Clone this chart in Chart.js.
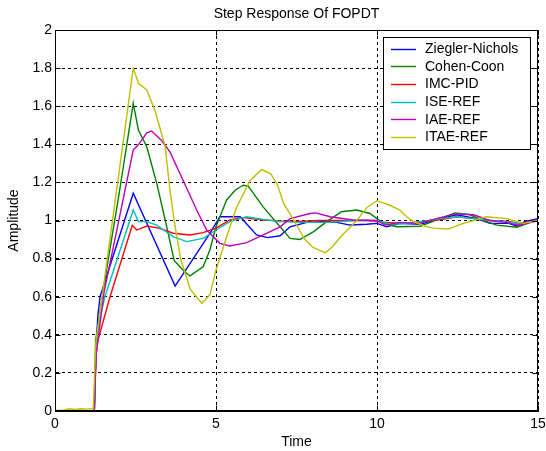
<!DOCTYPE html>
<html>
<head>
<meta charset="utf-8">
<title>Step Response Of FOPDT</title>
<script src="https://cdn.jsdelivr.net/npm/chart.js@4"></script>
<style>
  html, body { margin: 0; padding: 0; background: #fff; }
  #wrap { width: 546px; height: 451px; }
</style>
</head>
<body>
<div id="wrap"><canvas id="stepChart" width="546" height="451"></canvas></div>
<script>
// axis ticks
const timeTicks = [0, 5, 10, 15];
const ampTicks = [0, 0.2, 0.4, 0.6, 0.8, 1, 1.2, 1.4, 1.6, 1.8, 2];

// Ziegler-Nichols
const znTime = [0, 1.22, 1.27, 1.33, 1.40, 2.43, 3.73, 4.81, 5.12, 5.75, 6.26, 6.6, 6.99, 7.3, 8.02, 8.75, 9.16, 9.68, 10.0, 10.3, 10.71, 11.34, 11.96, 12.47, 13.1, 13.5, 14.1, 14.34, 14.6, 15];
const znAmp  = [0, 0, 0.3, 0.5, 0.6, 1.143, 0.656, 0.933, 1.02, 1.02, 0.924, 0.91, 0.92, 0.967, 0.999, 0.99, 0.976, 0.98, 0.985, 0.967, 0.985, 0.98, 1.01, 1.03, 1.01, 0.985, 0.985, 0.97, 0.995, 1.01];

// Cohen-Coon
const ccTime = [0, 1.22, 1.26, 1.6, 2.0, 2.43, 2.59, 2.85, 3.16, 3.47, 3.7, 4.0, 4.19, 4.6, 4.81, 5.0, 5.33, 5.6, 5.85, 6.0, 6.47, 6.99, 7.3, 7.6, 8.02, 8.44, 8.9, 9.37, 9.78, 10.2, 10.61, 11.34, 11.96, 12.42, 12.89, 13.3, 13.72, 14.34, 14.6, 15];
const ccAmp  = [0, 0, 0.37, 0.74, 1.15, 1.615, 1.475, 1.387, 1.195, 0.967, 0.79, 0.735, 0.709, 0.757, 0.845, 0.967, 1.108, 1.16, 1.185, 1.18, 1.07, 0.967, 0.906, 0.9, 0.94, 0.994, 1.046, 1.055, 1.037, 0.985, 0.967, 0.97, 1.01, 1.04, 1.03, 1.0, 0.976, 0.965, 0.98, 1.005];

// IMC-PID
const imcTime = [0, 1.22, 1.28, 1.33, 1.71, 2.40, 2.54, 2.85, 3.26, 3.67, 4.19, 4.6, 5.0, 5.43, 5.85, 6.47, 7.0, 7.6, 8.2, 9.0, 9.7, 10.3, 10.8, 11.5, 12.0, 12.47, 13.0, 13.5, 14.1, 14.4, 15];
const imcAmp  = [0, 0, 0.3, 0.37, 0.6, 0.975, 0.95, 0.971, 0.959, 0.933, 0.924, 0.936, 0.96, 1.003, 1.015, 1.003, 0.998, 0.995, 1.0, 1.0, 1.0, 0.99, 0.985, 0.995, 1.005, 1.02, 1.01, 1.0, 0.995, 0.985, 1.0];

// ISE-REF
const iseTime = [0, 1.22, 1.27, 1.35, 1.55, 2.43, 2.59, 2.85, 3.16, 3.67, 4.09, 4.6, 5.0, 5.43, 5.95, 6.47, 6.99, 7.6, 8.5, 9.3, 10.0, 10.4, 11.0, 11.6, 12.0, 12.5, 13.0, 13.6, 14.2, 14.5, 15];
const iseAmp  = [0, 0, 0.3, 0.45, 0.6, 1.055, 0.994, 0.994, 0.976, 0.915, 0.889, 0.906, 0.95, 0.994, 1.02, 1.005, 0.994, 0.99, 0.99, 1.0, 1.0, 0.98, 0.985, 1.0, 1.01, 1.02, 1.01, 1.0, 0.99, 0.98, 1.0];

// IAE-REF
const iaeTime = [0, 1.22, 1.25, 1.28, 1.52, 2.43, 2.6, 2.85, 3.0, 3.31, 3.57, 3.98, 4.4, 4.71, 5.12, 5.43, 5.95, 6.47, 6.99, 7.3, 7.92, 8.1, 8.54, 9.26, 10.0, 10.25, 10.7, 11.3, 11.96, 12.47, 13.0, 13.5, 14.0, 14.4, 15];
const iaeAmp  = [0, 0, 0.18, 0.3, 0.62, 1.37, 1.40, 1.46, 1.47, 1.42, 1.36, 1.21, 1.055, 0.95, 0.88, 0.866, 0.884, 0.924, 0.967, 1.01, 1.037, 1.04, 1.02, 1.003, 1.0, 0.976, 0.99, 0.985, 1.015, 1.035, 1.03, 1.0, 0.99, 0.975, 1.0];

// ITAE-REF
const itaeTime = [0, 0.3, 0.45, 0.6, 0.8, 1.0, 1.19, 1.23, 1.27, 2.43, 2.59, 2.85, 3.1, 3.42, 3.57, 3.7, 3.9, 4.2, 4.56, 4.81, 5.0, 5.33, 5.64, 6.06, 6.42, 6.7, 6.9, 7.1, 7.42, 7.76, 8.0, 8.39, 8.6, 8.9, 9.37, 9.7, 10.0, 10.4, 10.71, 10.92, 11.13, 11.5, 11.75, 12.21, 12.68, 13.0, 13.41, 14.03, 14.54, 15];
const itaeAmp  = [0.003, 0.005, 0.012, 0.008, 0.012, 0.01, 0.014, 0.2, 0.36, 1.80, 1.72, 1.685, 1.58, 1.39, 1.16, 1.0, 0.8, 0.64, 0.565, 0.61, 0.74, 0.915, 1.07, 1.21, 1.268, 1.245, 1.19, 1.09, 1.0, 0.9, 0.86, 0.83, 0.86, 0.92, 1.0, 1.07, 1.104, 1.08, 1.055, 1.02, 0.994, 0.97, 0.96, 0.955, 0.985, 1.0, 1.02, 1.01, 0.985, 1.0];

const seriesNames = ['Ziegler-Nichols', 'Cohen-Coon', 'IMC-PID', 'ISE-REF', 'IAE-REF', 'ITAE-REF'];
const seriesColors = ['#0000ff', '#008000', '#ff0000', '#00bfbf', '#bf00bf', '#bfbf00'];

const FONT = '"Liberation Sans", Arial, sans-serif';

function toPoints(ts, ys) {
    return ts.map((t, i) => ({ x: t, y: ys[i] }));
}

const seriesData = [
    toPoints(znTime, znAmp),
    toPoints(ccTime, ccAmp),
    toPoints(imcTime, imcAmp),
    toPoints(iseTime, iseAmp),
    toPoints(iaeTime, iaeAmp),
    toPoints(itaeTime, itaeAmp)
];

// frame, inward ticks, title and the boxed legend, matlab style
const matlabDecor = {
    id: 'matlabDecor',
    afterDraw(chart) {
        const ctx = chart.ctx;
        const area = chart.chartArea;
        const xs = chart.scales.x;
        const ys = chart.scales.y;
        const L = Math.round(area.left) + 0.5;
        const R = Math.round(area.right) - 0.5;
        const T = Math.round(area.top) + 0.5;
        const B = Math.round(area.bottom) - 0.5;
        ctx.save();
        ctx.strokeStyle = '#000';
        ctx.lineWidth = 1;
        ctx.setLineDash([]);
        ctx.strokeRect(L, T, R - L, B - T);

        // short ticks pointing inward on every side
        const tl = 5;
        ctx.beginPath();
        ampTicks.forEach(v => {
            const py = Math.round(ys.getPixelForValue(v)) + 0.5;
            ctx.moveTo(L, py); ctx.lineTo(L + tl, py);
            ctx.moveTo(R, py); ctx.lineTo(R - tl, py);
        });
        timeTicks.forEach(v => {
            const px = Math.round(xs.getPixelForValue(v)) + 0.5;
            ctx.moveTo(px, T); ctx.lineTo(px, T + tl);
            ctx.moveTo(px, B); ctx.lineTo(px, B - tl);
        });
        ctx.stroke();

        // title over the plot area
        ctx.fillStyle = '#000';
        ctx.font = '14px ' + FONT;
        ctx.textAlign = 'center';
        ctx.textBaseline = 'alphabetic';
        ctx.fillText('Step Response Of FOPDT', (area.left + area.right) / 2, 18);

        // legend box
        const bx = 383.5, by = 37.5, bw = 147, bh = 112;
        ctx.fillStyle = '#fff';
        ctx.fillRect(bx, by, bw, bh);
        ctx.strokeStyle = '#000';
        ctx.strokeRect(bx, by, bw, bh);
        ctx.textAlign = 'left';
        ctx.textBaseline = 'middle';
        chart.data.datasets.forEach((ds, i) => {
            const rowY = 48.5 + i * 17.7;
            ctx.strokeStyle = ds.borderColor;
            ctx.lineWidth = 1.4;
            ctx.beginPath();
            ctx.moveTo(391, Math.round(rowY) + 0.5);
            ctx.lineTo(416, Math.round(rowY) + 0.5);
            ctx.stroke();
            ctx.fillStyle = '#000';
            ctx.fillText(ds.label, 425, rowY + 0.5);
        });
        ctx.restore();
    }
};

const ctx = document.getElementById('stepChart').getContext('2d');
const stepChart = new Chart(ctx, {
    type: 'line',
    data: {
        datasets: seriesNames.map((name, i) => ({
            label: name,
            data: seriesData[i],
            borderColor: seriesColors[i],
            backgroundColor: seriesColors[i],
            borderWidth: 1.4,
            pointRadius: 0,
            tension: 0,
            fill: false,
            order: seriesNames.length - 1 - i
        }))
    },
    options: {
        responsive: false,
        animation: false,
        devicePixelRatio: 1,
        layout: { padding: { top: 30, right: 8, bottom: 0, left: 0 } },
        plugins: {
            legend: { display: false },
            title: { display: false },
            tooltip: { enabled: false }
        },
        scales: {
            x: {
                type: 'linear',
                min: 0,
                max: 15,
                afterFit: (scale) => {
                    scale.height = 40;
                    scale.paddingLeft = 0;
                    scale.paddingRight = 0;
                },
                afterBuildTicks: (scale) => { scale.ticks = timeTicks.map(v => ({ value: v })); },
                ticks: {
                    color: '#000',
                    padding: 5,
                    maxRotation: 0,
                    font: { family: FONT, size: 14 }
                },
                grid: { color: '#000', lineWidth: 1, drawTicks: false },
                border: { display: true, color: '#000', dash: [3, 3] },
                title: {
                    display: true,
                    text: 'Time',
                    color: '#000',
                    padding: { top: 0, bottom: 0 },
                    font: { family: FONT, size: 14 }
                }
            },
            y: {
                type: 'linear',
                min: 0,
                max: 2,
                afterFit: (scale) => {
                    scale.width = 55;
                    scale.paddingTop = 0;
                    scale.paddingBottom = 0;
                },
                afterBuildTicks: (scale) => { scale.ticks = ampTicks.map(v => ({ value: v })); },
                ticks: {
                    color: '#000',
                    padding: 3,
                    font: { family: FONT, size: 14 },
                    callback: (v) => String(Math.round(v * 10) / 10)
                },
                grid: { color: '#000', lineWidth: 1, drawTicks: false },
                border: { display: true, color: '#000', dash: [3, 3] },
                title: {
                    display: true,
                    text: 'Amplitude',
                    color: '#000',
                    padding: { top: 5.6, bottom: 0 },
                    font: { family: FONT, size: 14 }
                }
            }
        }
    },
    plugins: [matlabDecor]
});
</script>
</body>
</html>
